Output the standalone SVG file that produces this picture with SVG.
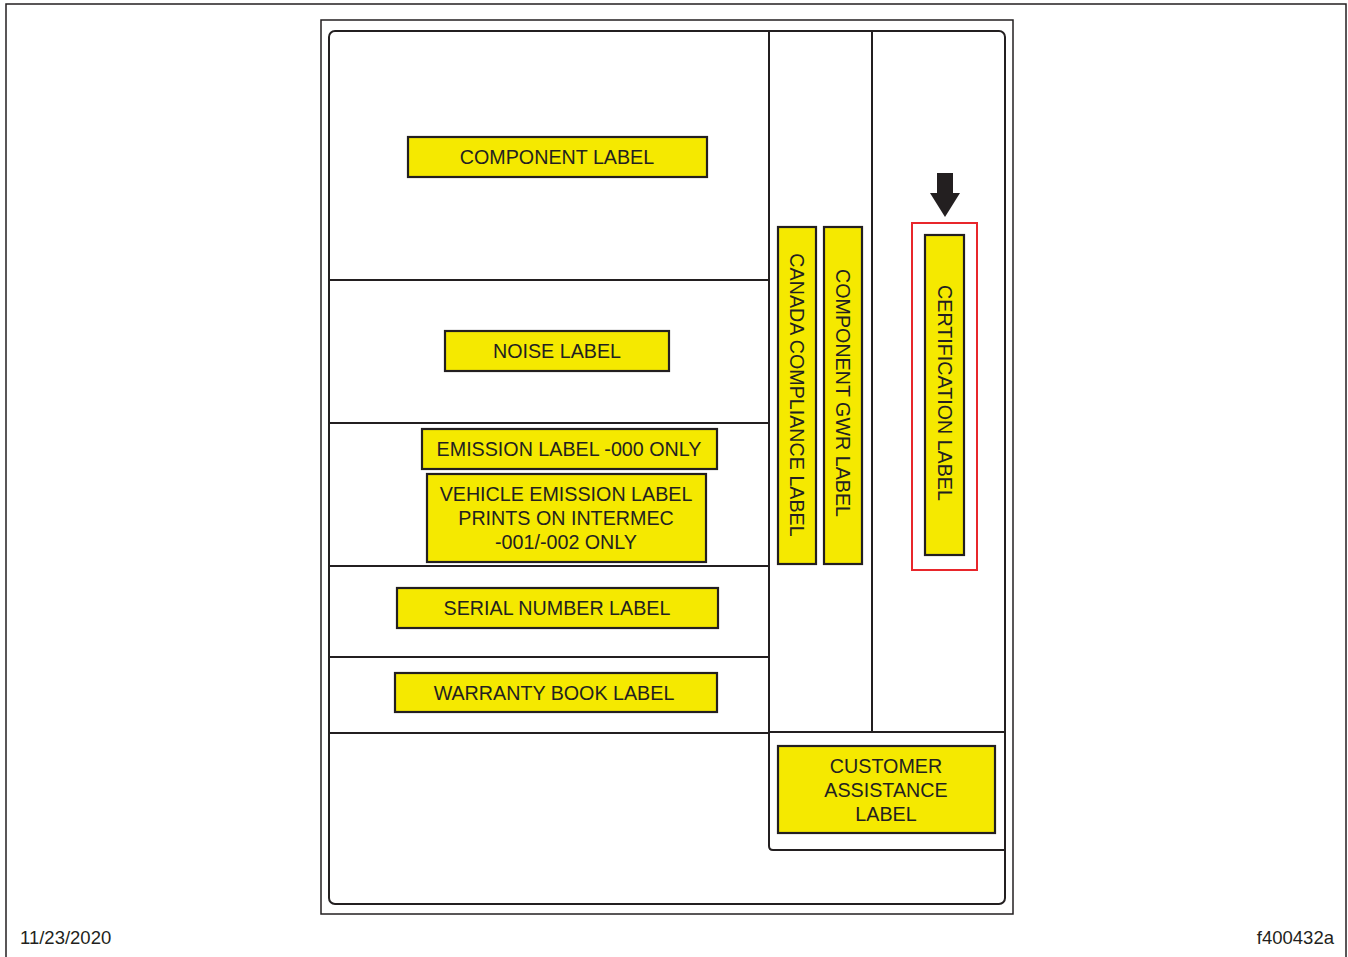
<svg xmlns="http://www.w3.org/2000/svg" width="1348" height="957" viewBox="0 0 1348 957">
<style>
.frame{fill:none;stroke:#231f20;stroke-width:1.5}
.line{stroke:#231f20;stroke-width:2;fill:none}
.lbl{fill:#f5e900;stroke:#231f20;stroke-width:2.2}
.t{font-family:"Liberation Sans",Arial,sans-serif;font-size:19.7px;fill:#231f20;text-anchor:middle}
.foot{font-family:"Liberation Sans",Arial,sans-serif;font-size:18.5px;fill:#231f20}
</style>
<rect width="1348" height="957" fill="#fff"/>
<rect x="6" y="4" width="1340" height="960" class="frame"/>
<rect x="321" y="20" width="692" height="894" class="frame"/>
<rect x="329" y="31" width="676" height="873" rx="6" class="line"/>
<g id="connectors">
<line x1="769" y1="31" x2="769" y2="846" class="line"/>
<line x1="872" y1="31" x2="872" y2="732" class="line"/>
<line x1="329" y1="280" x2="769" y2="280" class="line"/>
<line x1="329" y1="423" x2="769" y2="423" class="line"/>
<line x1="329" y1="566" x2="769" y2="566" class="line"/>
<line x1="329" y1="657" x2="769" y2="657" class="line"/>
<line x1="329" y1="733" x2="769" y2="733" class="line"/>
<line x1="769" y1="732" x2="1005" y2="732" class="line"/>
<path d="M769 846 Q769 850 773 850 L1005 850" class="line"/>
</g>
<g id="component-label"><rect x="408" y="137" width="299" height="40" class="lbl"/><text x="557" y="164" class="t">COMPONENT LABEL</text></g>
<g id="noise-label"><rect x="445" y="331" width="224" height="40" class="lbl"/><text x="557" y="358" class="t">NOISE LABEL</text></g>
<g id="emission-label"><rect x="422" y="429" width="295" height="40" class="lbl"/><text x="569" y="456" class="t">EMISSION LABEL -000 ONLY</text></g>
<g id="vehicle-emission-label"><rect x="427" y="474" width="279" height="88" class="lbl"/><text x="566" y="501" class="t"><tspan x="566">VEHICLE EMISSION LABEL</tspan><tspan x="566" dy="24">PRINTS ON INTERMEC</tspan><tspan x="566" dy="24">-001/-002 ONLY</tspan></text></g>
<g id="serial-number-label"><rect x="397" y="588" width="321" height="40" class="lbl"/><text x="557" y="615" class="t">SERIAL NUMBER LABEL</text></g>
<g id="warranty-book-label"><rect x="395" y="673" width="322" height="39" class="lbl"/><text x="554" y="700" class="t">WARRANTY BOOK LABEL</text></g>
<g id="canada-compliance-label"><rect x="778" y="227" width="38" height="337" class="lbl"/><text transform="translate(790 395) rotate(90)" class="t">CANADA COMPLIANCE LABEL</text></g>
<g id="component-gwr-label"><rect x="824" y="227" width="38" height="337" class="lbl"/><text transform="translate(836 393) rotate(90)" class="t">COMPONENT GWR LABEL</text></g>
<g id="certification-label"><rect x="912" y="223" width="65" height="347" fill="none" stroke="#e8262b" stroke-width="2"/><rect x="925" y="235" width="39" height="320" class="lbl"/><text transform="translate(938 393) rotate(90)" class="t">CERTIFICATION LABEL</text><polygon points="937,173 953,173 953,193 960,193 945,217 930,193 937,193" fill="#231f20"/></g>
<g id="customer-assistance-label"><rect x="778" y="746" width="217" height="87" class="lbl"/><text x="886" y="773" class="t"><tspan x="886">CUSTOMER</tspan><tspan x="886" dy="24">ASSISTANCE</tspan><tspan x="886" dy="24">LABEL</tspan></text></g>
<text x="20" y="944" class="foot">11/23/2020</text>
<text x="1334" y="944" class="foot" text-anchor="end">f400432a</text>
</svg>
